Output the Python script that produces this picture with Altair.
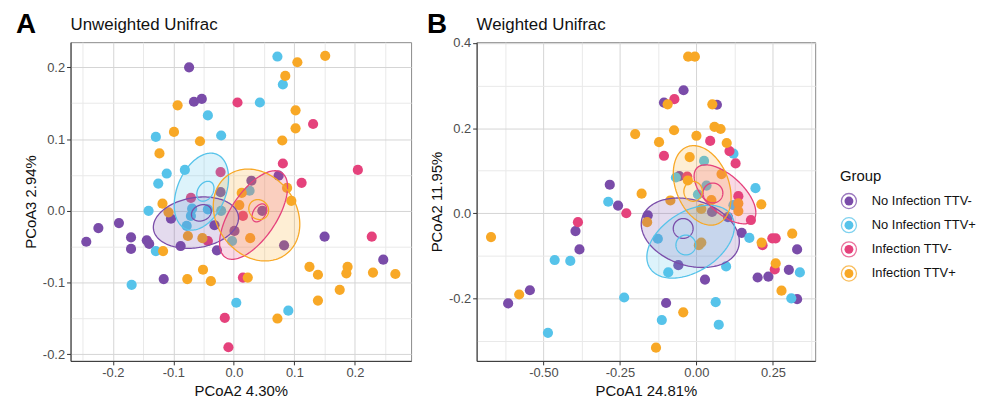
import numpy as np
import pandas as pd
import altair as alt

GROUPS = ["No Infection TTV-", "No Infection TTV+", "Infection TTV-", "Infection TTV+"]
COLORS = ["#7A4CA9", "#56C3EA", "#E5427C", "#F8A826"]

# ---------------- Panel A : Unweighted Unifrac (PCoA2 x, PCoA3 y)
A_G0_X = [-0.074, -0.066, -0.053, -0.244, -0.224, -0.190, -0.170, -0.170, -0.144, -0.140, -0.104, -0.088,
          -0.116, -0.028, -0.032, 0.074, 0.029, 0.047, 0.001, 0.083, 0.150, 0.247, -0.022]
A_G0_Y = [0.200, 0.152, 0.156, -0.043, -0.024, -0.017, -0.037, -0.053, -0.041, -0.046, -0.011, -0.049,
          -0.095, -0.055, -0.020, 0.049, 0.042, 0.000, -0.028, -0.048, -0.036, -0.068, 0.026]
A_G1_X = [0.072, 0.081, 0.043, -0.043, -0.021, -0.129, -0.111, -0.125, -0.081, -0.141, -0.069, -0.071,
          -0.043, -0.021, -0.078, -0.129, -0.169, 0.004, 0.090, 0.026, -0.003]
A_G1_Y = [0.215, 0.176, 0.151, 0.133, 0.105, 0.103, 0.052, 0.038, 0.057, 0.000, 0.003, -0.007,
          0.002, 0.000, -0.021, -0.056, -0.103, -0.128, -0.139, 0.028, -0.042]
A_G2_X = [0.006, 0.131, 0.081, 0.112, 0.205, -0.022, -0.071, 0.015, -0.043, 0.015, -0.015, -0.009, 0.228]
A_G2_Y = [0.151, 0.121, 0.066, 0.039, 0.057, 0.054, 0.018, -0.007, -0.042, -0.093, -0.149, -0.190, -0.036]
A_G3_X = [0.151, 0.105, 0.085, -0.093, 0.102, -0.099, 0.102, -0.056, 0.080, -0.123, -0.118, -0.108,
          0.013, 0.009, 0.088, 0.095, 0.027, -0.076, -0.052, -0.117, -0.051, -0.077, -0.038, 0.023,
          0.125, 0.139, 0.188, 0.186, 0.230, 0.267, 0.175, 0.139, 0.072]
A_G3_Y = [0.216, 0.207, 0.188, 0.147, 0.140, 0.110, 0.115, 0.097, 0.098, 0.080, 0.010, -0.002,
          0.025, 0.008, 0.032, 0.014, -0.038, -0.035, -0.038, -0.056, -0.082, -0.095, -0.098, -0.093,
          -0.078, -0.089, -0.078, -0.087, -0.086, -0.088, -0.110, -0.125, -0.150]

# ---------------- Panel B : Weighted Unifrac (PCoA1 x, PCoA2 y)
B_G0_X = [-0.042, -0.106, 0.067, -0.283, -0.256, -0.159, -0.395, -0.382, -0.544, -0.615, -0.099, -0.059,
          0.028, 0.148, 0.103, 0.051, -0.056, 0.200, 0.235, 0.302, 0.329, 0.329]
B_G0_Y = [0.289, 0.260, 0.255, 0.067, 0.018, -0.005, -0.042, -0.085, -0.181, -0.212, -0.211, -0.122,
          -0.156, -0.046, -0.009, 0.003, 0.087, -0.151, -0.149, -0.133, -0.085, -0.202]
B_G1_X = [-0.288, -0.463, -0.412, -0.236, -0.485, -0.126, -0.092, 0.097, 0.173, 0.338, 0.310, 0.063,
          0.073, -0.113, 0.121, 0.193, 0.025, -0.067, 0.033, 0.005, 0.121]
B_G1_Y = [0.027, -0.110, -0.112, -0.198, -0.281, -0.060, -0.139, -0.125, -0.058, -0.139, -0.200, -0.209,
          -0.262, -0.251, 0.140, 0.059, 0.123, 0.084, 0.065, 0.044, 0.019]
B_G2_X = [-0.072, 0.045, -0.106, 0.108, 0.128, 0.137, 0.178, -0.229, -0.387, 0.216, 0.248, 0.259, 0.256, -0.030]
B_G2_Y = [0.268, 0.170, 0.135, 0.146, 0.117, 0.040, -0.016, 0.000, -0.021, -0.075, -0.059, -0.059, -0.132, 0.086]
B_G3_X = [-0.027, -0.005, -0.094, 0.052, 0.059, 0.079, -0.073, 0.000, -0.200, -0.122, 0.099, -0.022,
          0.082, -0.028, -0.179, -0.671, -0.579, -0.161, -0.085, 0.016, 0.049, 0.137, 0.137, 0.212,
          0.016, 0.008, 0.213, 0.313, 0.259, 0.278, -0.043, -0.132]
B_G3_Y = [0.368, 0.368, 0.256, 0.256, 0.203, 0.198, 0.195, 0.182, 0.186, 0.167, 0.165, 0.132,
          0.092, 0.077, 0.046, -0.056, -0.191, -0.021, 0.030, 0.010, 0.031, 0.023, 0.005, 0.021,
          -0.069, -0.075, -0.069, -0.048, -0.118, -0.182, -0.233, -0.316]

# ---------------- Ellipses (centre, spread along x / y, correlation); big = filled, small = outline only
ELL_GROUP = [0, 1, 2, 3, 0, 1, 2, 3]
ELL_FILLED = [True, True, True, True, False, False, False, False]
ELL_A_CX = [-0.0627, -0.0537, 0.0326, 0.0375, -0.0537, -0.0471, 0.0422, 0.0411]
ELL_A_CY = [-0.0164, 0.0268, -0.0058, -0.0058, -0.0028, 0.0273, -0.0028, 0.0018]
ELL_A_SX = [0.0704, 0.0449, 0.0562, 0.0715, 0.0164, 0.0142, 0.0121, 0.0164]
ELL_A_SY = [0.0358, 0.0536, 0.0617, 0.0640, 0.0115, 0.0139, 0.0125, 0.0139]
ELL_A_RHO = [0.18, 0.35, 0.63, -0.20, 0.20, 0.30, 0.40, -0.10]
ELL_B_CX = [-0.0200, -0.0189, 0.0933, 0.0189, -0.0432, -0.0345, 0.0540, -0.0108]
ELL_B_CY = [-0.0459, -0.0669, 0.0444, 0.0654, -0.0358, -0.0747, 0.0475, 0.0514]
ELL_B_SX = [0.1602, 0.1430, 0.1009, 0.0944, 0.0324, 0.0324, 0.0324, 0.0302]
ELL_B_SY = [0.0817, 0.0856, 0.0693, 0.0934, 0.0233, 0.0233, 0.0233, 0.0233]
ELL_B_RHO = [-0.25, 0.42, -0.62, -0.30, 0.0, 0.0, 0.0, 0.0]

# ---------------- Axis ticks (major labelled, minor grid only)
A_X_TICKS = [-0.25, -0.2, -0.15, -0.1, -0.05, 0.0, 0.05, 0.1, 0.15, 0.2, 0.25]
A_Y_TICKS = [-0.15, -0.2, -0.1, -0.05, 0.0, 0.05, 0.1, 0.15, 0.2]
B_X_TICKS = [-0.625, -0.5, -0.375, -0.25, -0.125, 0.0, 0.125, 0.25, 0.375]
B_Y_TICKS = [-0.3, -0.2, -0.1, 0.0, 0.1, 0.2, 0.3, 0.4]

FONT = "Liberation Sans"
H = 321


def points_df(xs, ys):
    rows = []
    for gi, (gx, gy) in enumerate(zip(xs, ys)):
        for x, y in zip(gx, gy):
            rows.append({"group": GROUPS[gi], "x": x, "y": y})
    return pd.DataFrame(rows)


def ellipse_dfs(cxs, cys, sxs, sys_, rhos):
    band, outline = [], []
    for k in range(len(cxs)):
        cx, cy, sx, sy, r = cxs[k], cys[k], sxs[k], sys_[k], rhos[k]
        s = np.sqrt(1 - r * r)
        g = GROUPS[ELL_GROUP[k]]
        t = np.linspace(0, 2 * np.pi, 161)
        for i, tt in enumerate(t):
            outline.append({"eid": k, "group": g, "i": i,
                            "x": cx + sx * np.cos(tt),
                            "y": cy + sy * (r * np.cos(tt) + s * np.sin(tt))})
        if ELL_FILLED[k]:
            for tt in np.linspace(0, np.pi, 90):
                band.append({"eid": k, "group": g,
                             "x": cx + sx * np.cos(tt),
                             "y": cy + sy * (r * np.cos(tt) + s * np.sin(tt)),
                             "y2": cy + sy * (r * np.cos(tt) - s * np.sin(tt))})
    return pd.DataFrame(band), pd.DataFrame(outline)


def make_axis(ticks, mult, fmt, title):
    test = f"abs(datum.value*{mult} - round(datum.value*{mult})) < 0.000001"
    return alt.Axis(
        values=ticks, title=title,
        labelExpr=f"{test} ? replace(format(datum.value, '{fmt}'), '\u2212', '-') : ''",
        gridColor={"condition": {"test": test, "value": "#d5d5d5"}, "value": "#e9e9e9"},
        gridWidth=1,
        tickOpacity={"condition": {"test": test, "value": 1}, "value": 0},
        tickColor="#333333", tickSize=4, domain=True, domainColor="#333333", domainWidth=1,
        labelFont=FONT, labelFontSize=13, labelColor="#4d4d4d", labelPadding=2,
        labelOverlap=False, labelFlush=False,
        titleFont=FONT, titleFontSize=15, titleColor="#111111", titleFontWeight="normal",
        titlePadding=4,
    )


color = alt.Color("group:N", scale=alt.Scale(domain=GROUPS, range=COLORS), legend=None)


def panel(pts, cxs, cys, sxs, sys_, rhos, xdom, ydom, xax, yax, title, letter, letter_dx, width):
    band_df, out_df = ellipse_dfs(cxs, cys, sxs, sys_, rhos)
    xenc = alt.X("x:Q", scale=alt.Scale(domain=xdom, nice=False, zero=False), axis=xax)
    yenc = alt.Y("y:Q", scale=alt.Scale(domain=ydom, nice=False, zero=False), axis=yax, stack=None)
    p = alt.Chart(pts).mark_circle(size=105, opacity=1).encode(x=xenc, y=yenc, color=color)
    b = alt.Chart(band_df).mark_area(opacity=0.2).encode(x=xenc, y=yenc, y2="y2:Q", color=color,
                                                         detail="eid:N")
    o = alt.Chart(out_df).mark_line(strokeWidth=1.3).encode(x=xenc, y=yenc, color=color,
                                                            detail="eid:N", order="i:Q")
    lt = alt.Chart(pd.DataFrame({"t": [letter]})).mark_text(
        align="left", baseline="alphabetic", font=FONT, fontSize=28, fontWeight="bold", color="#000"
    ).encode(x=alt.value(letter_dx), y=alt.value(-9), text="t:N")
    tt = alt.Chart(pd.DataFrame({"t": [title]})).mark_text(
        align="left", baseline="alphabetic", font=FONT, fontSize=17, color="#111111"
    ).encode(x=alt.value(0), y=alt.value(-12), text="t:N")
    return alt.layer(p, b, o, lt, tt).properties(
        width=width, height=H,
        view=alt.ViewBackground(stroke="#8a8a8a", strokeWidth=1),
    )


ptsA = points_df([A_G0_X, A_G1_X, A_G2_X, A_G3_X], [A_G0_Y, A_G1_Y, A_G2_Y, A_G3_Y])
ptsB = points_df([B_G0_X, B_G1_X, B_G2_X, B_G3_X], [B_G0_Y, B_G1_Y, B_G2_Y, B_G3_Y])

chartA = panel(ptsA, ELL_A_CX, ELL_A_CY, ELL_A_SX, ELL_A_SY, ELL_A_RHO,
               [-0.270, 0.293], [-0.209, 0.235],
               make_axis(A_X_TICKS, 10, ".1f", "PCoA2 4.30%"),
               make_axis(A_Y_TICKS, 10, ".1f", "PCoA3 2.94%"),
               "Unweighted Unifrac", "A", -55, 343)
chartB = panel(ptsB, ELL_B_CX, ELL_B_CY, ELL_B_SX, ELL_B_SY, ELL_B_RHO,
               [-0.718, 0.388], [-0.347, 0.402],
               make_axis(B_X_TICKS, 4, ".2f", "PCoA1 24.81%"),
               make_axis(B_Y_TICKS, 5, ".1f", "PCoA2 11.95%"),
               "Weighted Unifrac", "B", -50, 341)

leg_df = pd.DataFrame({"group": GROUPS})
ly = alt.Y("group:N", scale=alt.Scale(type="point", domain=GROUPS, range=[160, 233], padding=0), axis=None)
ring = alt.Chart(leg_df).mark_point(shape="circle", filled=False, size=230, strokeWidth=1.3,
                                    opacity=0.75).encode(x=alt.value(19), y=ly, color=color)
dot = alt.Chart(leg_df).mark_point(shape="circle", filled=True, size=80, opacity=1).encode(
    x=alt.value(19), y=ly, color=color)
ltxt = alt.Chart(leg_df).mark_text(align="left", baseline="middle", font=FONT, fontSize=13,
                                   color="#111111").encode(x=alt.value(42), y=ly, text="group:N")
gtitle = alt.Chart(pd.DataFrame({"t": ["Group"]})).mark_text(
    align="left", baseline="middle", font=FONT, fontSize=15, color="#111111"
).encode(x=alt.value(10), y=alt.value(135), text="t:N")
legend = alt.layer(ring, dot, ltxt, gtitle).properties(
    width=140, height=H, view=alt.ViewBackground(strokeWidth=0, strokeOpacity=0))

chart = alt.hconcat(chartA, chartB, legend, spacing=14).properties(
    padding={"left": 7, "top": 1, "right": 2, "bottom": 2}
).configure_view(strokeWidth=0)

chart.save("out.html", embed_options={"renderer": "svg", "actions": False})
